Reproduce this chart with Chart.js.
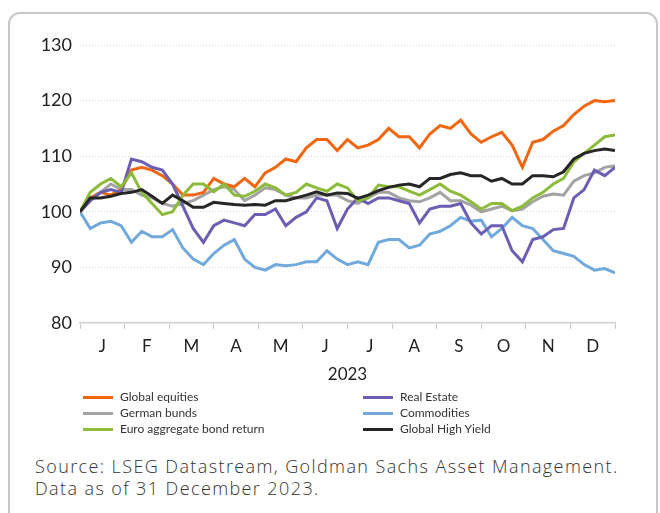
<!DOCTYPE html>
<html>
<head>
<meta charset="utf-8">
<script src="https://cdn.jsdelivr.net/npm/chart.js@4.4.1/dist/chart.umd.min.js"></script>
<style>
  body { margin: 0; background: #fff; width: 660px; height: 513px; overflow: hidden; position: relative; font-family: Lato, "Open Sans", sans-serif; }
  .frame { position: absolute; left: 8px; top: 12px; width: 646px; height: 520px; border: 2px solid #c8c8c8; border-radius: 12px; }
  .chart-box { position: absolute; left: 0; top: 0; width: 660px; height: 390px; }
  .legend { position: absolute; left: 83px; top: 389px; width: 460px; display: grid; grid-template-columns: 280px 180px; row-gap: 0; font-size: 12px; color: #333; }
  .legend div { height: 16px; line-height: 16px; display: flex; align-items: center; }
  .legend span.sw { display: inline-block; width: 30px; height: 3px; margin-right: 7px; }
  .source { position: absolute; left: 35px; top: 455px; font-family: "Open Sans", sans-serif; font-size: 18px; letter-spacing: 1.4px; line-height: 22px; color: #333; font-weight: 300; }
</style>
</head>
<body>
<div class="frame"></div>
<div class="chart-box"><canvas id="assetChart" width="660" height="390"></canvas></div>
<div class="legend" id="legend"></div>
<div class="source">Source: LSEG Datastream, Goldman Sachs Asset Management.<br>Data as of 31 December 2023.</div>
<script>
/* ===========================
   DATA (weekly, rebased to 100)
=========================== */

const monthLabels = ["J", "F", "M", "A", "M", "J", "J", "A", "S", "O", "N", "D"];
const yearLabel = "2023";

const globalEquities = [100, 102.5, 103.5, 103, 104, 107.5, 108, 107.5, 106.5, 105, 103, 103, 103.5, 106,
  105, 104.5, 106, 104.5, 107, 108, 109.5, 109, 111.5, 113, 113, 111, 113, 111.5, 112, 113, 115, 113.5,
  113.5, 111.5, 114, 115.5, 115, 116.5, 114, 112.5, 113.5, 114.3, 112, 108, 112.5, 113, 114.5, 115.5,
  117.5, 119, 120, 119.8, 120];

const realEstate = [100, 102, 103.5, 104, 103.5, 109.5, 109, 108, 107.5, 105, 101, 97, 94.5, 97.5,
  98.5, 98, 97.5, 99.5, 99.5, 100.5, 97.5, 99, 100, 102.5, 102, 97, 100.5, 102.5, 101.5, 102.5, 102.5, 102,
  101.5, 98, 100.5, 101, 101, 101.5, 98, 96, 97.5, 97.5, 93, 91, 95, 95.5, 96.8, 97,
  102.5, 104, 107.5, 106.5, 108];

const germanBunds = [100, 102, 103.5, 105, 104, 104, 103, 102.5, 101.5, 101, 101.5, 102, 103, 104,
  104.5, 104, 102, 103, 104.3, 104, 103, 102.5, 102.5, 103, 103, 103, 102, 101.5, 102.5, 103.5, 103.5, 102.5,
  102, 101.8, 102.5, 103.5, 102, 102, 101.2, 100, 100.5, 101, 100.2, 100.5, 101.8, 102.8, 103.2, 103,
  105.5, 106.5, 107, 108, 108.3];

const commodities = [100, 97, 98, 98.3, 97.5, 94.5, 96.5, 95.5, 95.5, 96.8, 93.5, 91.5, 90.5, 92.5,
  94, 95, 91.5, 90, 89.5, 90.5, 90.3, 90.5, 91, 91, 93, 91.5, 90.5, 91, 90.5, 94.5, 95, 95,
  93.5, 94, 96, 96.5, 97.5, 99, 98.3, 98.5, 95.5, 97, 99, 97.5, 97, 95, 93, 92.5,
  92, 90.5, 89.5, 89.8, 89];

const euroAggregate = [100, 103.5, 105, 106, 104.5, 107, 103.5, 101.5, 99.5, 100, 103, 105, 105, 103.6,
  105, 103, 102.8, 103.7, 105, 104.3, 103, 103.5, 105, 104.3, 103.7, 105, 104.3, 102, 102.5, 104.8, 104.5, 104.5,
  103.7, 103, 104, 105, 103.7, 103, 101.8, 100.5, 101.5, 101.5, 100.2, 101, 102.5, 103.5, 105, 106,
  109, 110.5, 112, 113.5, 113.8];

const globalHighYield = [100, 102.5, 102.5, 102.8, 103.3, 103.5, 104, 102.8, 101.5, 103, 102, 100.8, 100.8, 101.7,
  101.5, 101.3, 101.2, 101.3, 101.2, 102, 102, 102.5, 103, 103.6, 103, 103.4, 103.3, 102.4, 103, 103.8, 104.4, 104.8,
  105, 104.5, 106, 106, 106.7, 107, 106.5, 106.5, 105.5, 106, 105, 105, 106.5, 106.5, 106.3, 107.2,
  109.5, 110.5, 111, 111.3, 111];

// x position of each weekly point, in months since 1 Jan
const toPoints = arr => arr.map((v, i) => ({ x: i * 12 / (arr.length - 1), y: v }));

/* ===========================
   CHART.JS CONFIGURATION
=========================== */

const series = [
  { label: 'Global High Yield', data: globalHighYield, color: '#262626', legendPos: 5 },
  { label: 'Euro aggregate bond return', data: euroAggregate, color: '#8dbb3c', legendPos: 4 },
  { label: 'Real Estate', data: realEstate, color: '#6a5fb3', legendPos: 1 },
  { label: 'Global equities', data: globalEquities, color: '#f2660f', legendPos: 0 },
  { label: 'German bunds', data: germanBunds, color: '#a3a3a3', legendPos: 2 },
  { label: 'Commodities', data: commodities, color: '#72a9dc', legendPos: 3 }
];

const ctx = document.getElementById('assetChart');

const chart = new Chart(ctx, {
  type: 'line',
  data: {
    datasets: series.map(s => ({
      label: s.label,
      data: toPoints(s.data),
      borderColor: s.color,
      backgroundColor: s.color,
      borderWidth: 3,
      pointRadius: 0,
      tension: 0
    }))
  },
  options: {
    responsive: false,
    animation: false,
    layout: { padding: { left: 20, right: 45, top: 45, bottom: 0 } },
    scales: {
      x: {
        type: 'linear',
        min: 0,
        max: 12,
        afterBuildTicks: axis => {
          const t = [];
          for (let v = 0; v <= 12; v += 0.5) t.push({ value: v });
          axis.ticks = t;
        },
        afterFit: axis => { axis.height = 67; },
        ticks: {
          autoSkip: false,
          maxRotation: 0,
          padding: 7,
          color: '#222',
          font: { family: 'Lato', size: 17 },
          callback: v => (v % 1 === 0.5 ? monthLabels[Math.floor(v)] : '')
        },
        grid: {
          drawOnChartArea: false,
          tickLength: 6,
          tickColor: c => (c.tick && c.tick.value % 1 === 0 ? '#c8c8c8' : 'rgba(0,0,0,0)'),
          lineWidth: 1
        },
        border: { color: '#cfcfcf', width: 1.5 },
        title: {
          display: true,
          text: yearLabel,
          color: '#222',
          font: { family: 'Lato', size: 17 },
          padding: { top: 4, bottom: 5 }
        }
      },
      y: {
        min: 80,
        max: 130,
        afterFit: axis => { axis.width = 60; },
        ticks: {
          stepSize: 10,
          padding: 8,
          color: '#222',
          font: { family: 'Lato', size: 18 }
        },
        grid: {
          drawTicks: false,
          color: c => (c.tick && c.tick.value === 80 ? 'rgba(0,0,0,0)' : '#dadada'),
          borderDash: [1, 2]
        },
        border: { display: false, dash: [1, 2] }
      }
    },
    plugins: {
      legend: { display: false },
      tooltip: { enabled: false }
    }
  }
});

/* ===========================
   LEGEND (two columns)
=========================== */

const legendEl = document.getElementById('legend');
const ordered = series.slice().sort((a, b) => a.legendPos - b.legendPos);
ordered.forEach(s => {
  const item = document.createElement('div');
  item.innerHTML = '<span class="sw" style="background:' + s.color + '"></span>' + s.label;
  legendEl.appendChild(item);
});
</script>
</body>
</html>
